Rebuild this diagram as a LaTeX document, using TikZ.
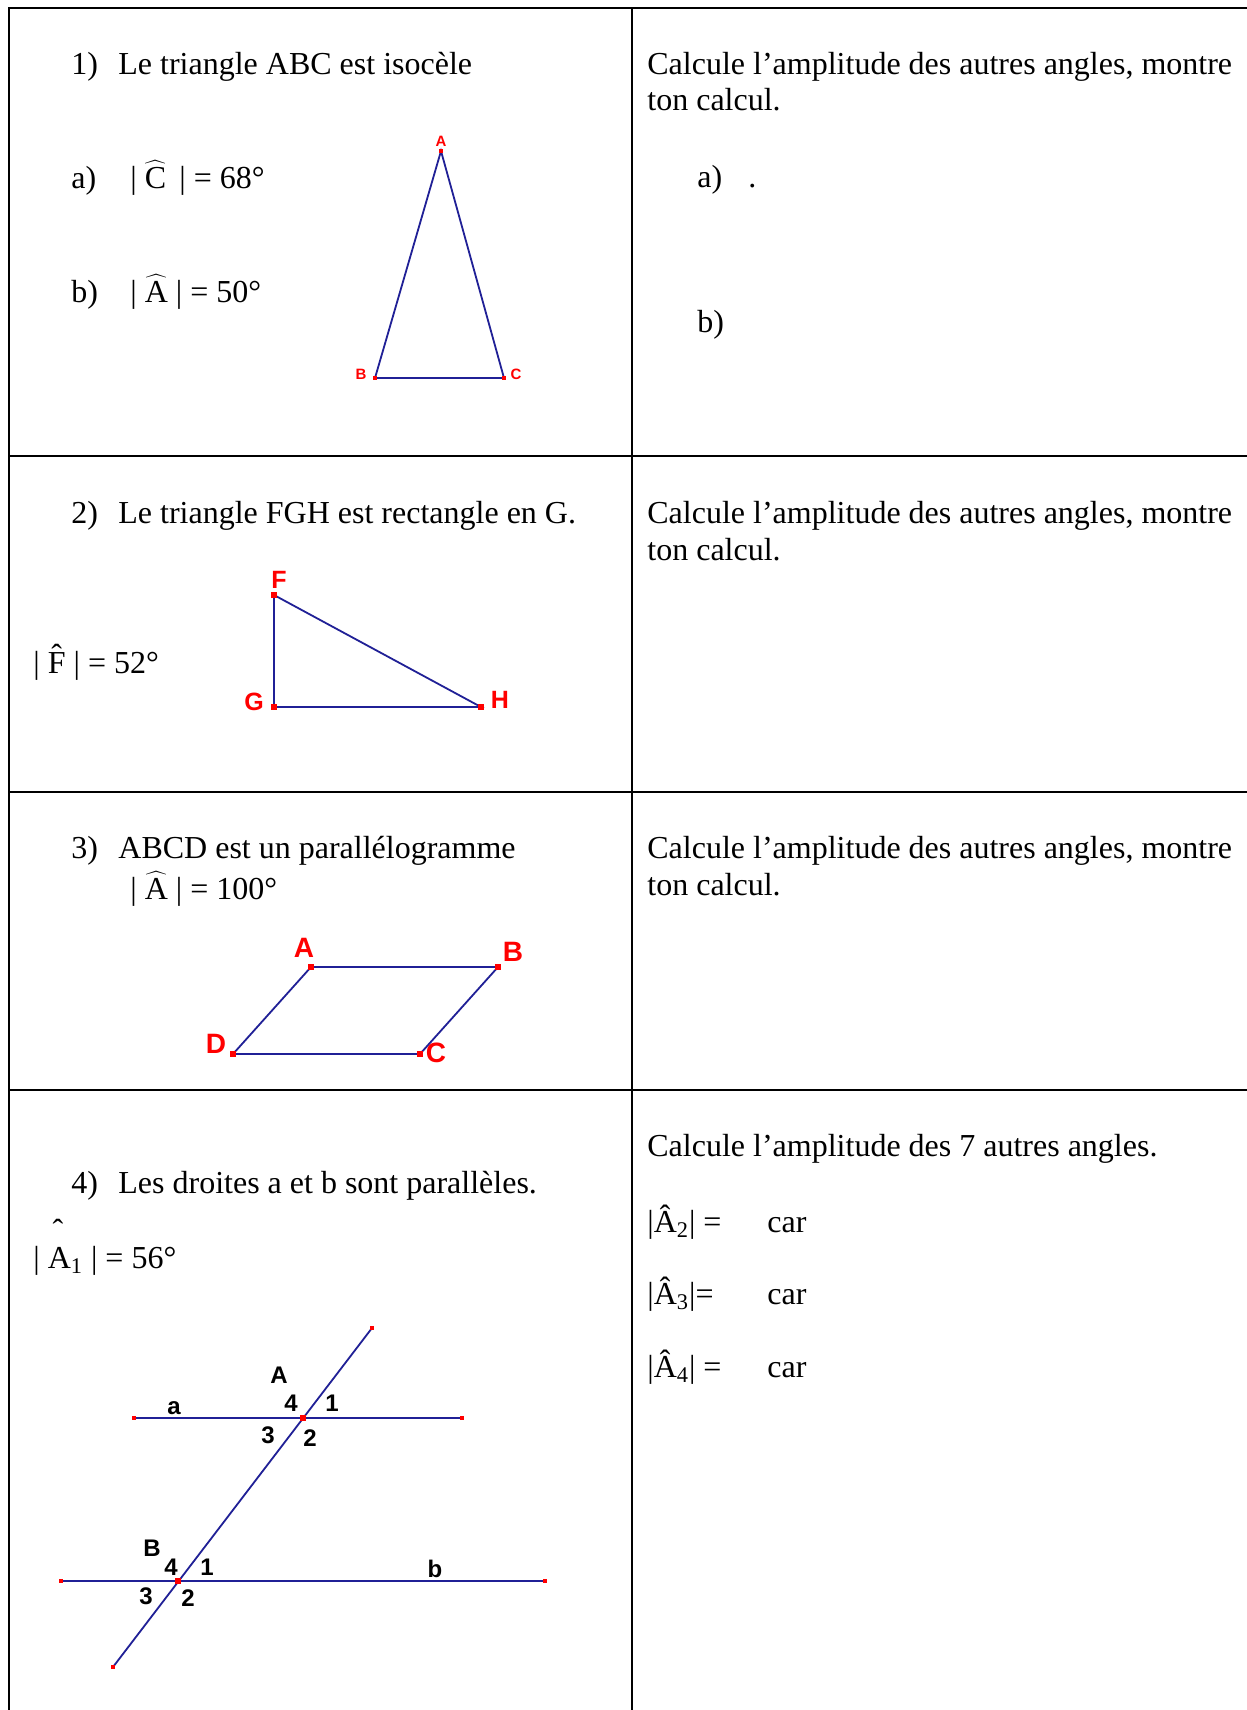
\documentclass[tikz,border=0pt]{standalone}
\usepackage{fontspec}
\setmainfont{Liberation Serif}
\newfontfamily\labfont{Liberation Sans}
\definecolor{geoblue}{RGB}{32,32,150}
\newcommand{\wh}[1]{$\widehat{\hbox{#1}}$}
\newcommand{\nhat}[1]{\ooalign{#1\cr\hidewidth\raisebox{0.2em}{\char"02C6}\hidewidth\cr}}
\begin{document}
\begin{tikzpicture}[x=0.5pt,y=-0.5pt,
  txt/.style={anchor=base west, inner sep=0pt, font=\fontsize{16}{18}\selectfont},
  gridline/.style={line width=1.3pt},
  geo/.style={draw=geoblue, line width=0.9pt},
  vtx/.style={rectangle, fill=red, inner sep=0pt, minimum size=2.6pt},
  vtxs/.style={rectangle, fill=red, inner sep=0pt, minimum size=1.8pt},
  rl/.style={text=red, inner sep=0pt, font=\labfont\bfseries\fontsize{#1}{#1}\selectfont},
  bl/.style={text=black, inner sep=0pt, font=\labfont\bfseries\fontsize{#1}{#1}\selectfont}]
\useasboundingbox[fill=white] (0,0) rectangle (1247,1710);
% table
\draw[gridline] (1247,8) -- (9,8) -- (9,1710);
\draw[gridline] (632,8) -- (632,1710);
\draw[gridline] (9,456) -- (1247,456);
\draw[gridline] (9,792) -- (1247,792);
\draw[gridline] (9,1090) -- (1247,1090);

% ---- cell 1
\node[txt] (n1) at (71,74) {1)};
\node[txt] (t1) at (118,74) {Le triangle ABC est isocèle};
\node[txt] (a1) at (71,188) {a)};
\node[txt] (f1) at (130,188) {| \wh{C}\ \,| = 68°};
\node[txt] (b1) at (71,302) {b)};
\node[txt] (f2) at (130,302) {| \wh{A} | = 50°};
\coordinate (TA) at (441,151);
\coordinate (TB) at (375,378);
\coordinate (TC) at (504,378);
\draw[geo] (TA) -- (TB) -- (TC) -- cycle;
\node[vtxs] (TAm) at (TA) {};
\node[vtxs] (TBm) at (TB) {};
\node[vtxs] (TCm) at (TC) {};
\node[rl=7.5, anchor=south] (TAl) at (441,147) {A};
\node[rl=7.5] (TBl) at (361,374) {B};
\node[rl=7.5] (TCl) at (516,374) {C};
% right cell 1
\node[txt] (r1a) at (647,74) {Calcule l’amplitude des autres angles, montre};
\node[txt] (r1b) at (647,110) {ton calcul.};
\node[txt] (r1c) at (697,187) {a)};
\node[txt] (r1d) at (748,187) {.};
\node[txt] (r1e) at (697,332) {b)};

% ---- cell 2
\node[txt] (n2) at (71,523) {2)};
\node[txt] (t2) at (118,523) {Le triangle FGH est rectangle en G.};
\node[txt] (f3) at (33,673) {| \nhat{F} | = 52°};
\coordinate (PF) at (274,595);
\coordinate (PG) at (274,707);
\coordinate (PH) at (481,707);
\draw[geo] (PF) -- (PG) -- (PH) -- cycle;
\node[vtx] (PFm) at (PF) {};
\node[vtx] (PGm) at (PG) {};
\node[vtx] (PHm) at (PH) {};
\node[rl=12.5] (PFl) at (279,580) {F};
\node[rl=12.5] (PGl) at (254,702) {G};
\node[rl=12.5] (PHl) at (500,700) {H};
% right cell 2
\node[txt] (r2a) at (647,523) {Calcule l’amplitude des autres angles, montre};
\node[txt] (r2b) at (647,560) {ton calcul.};

% ---- cell 3
\node[txt] (n3) at (71,858) {3)};
\node[txt] (t3) at (118,858) {ABCD est un parallélogramme};
\node[txt] (f4) at (130,899) {| \wh{A} | = 100°};
\coordinate (QA) at (311,967);
\coordinate (QB) at (498,967);
\coordinate (QC) at (420,1054);
\coordinate (QD) at (233,1054);
\draw[geo] (QA) -- (QB) -- (QC) -- (QD) -- cycle;
\node[vtx] (QAm) at (QA) {};
\node[vtx] (QBm) at (QB) {};
\node[vtx] (QCm) at (QC) {};
\node[vtx] (QDm) at (QD) {};
\node[rl=14] (QAl) at (304,948) {A};
\node[rl=14] (QBl) at (513,952) {B};
\node[rl=14] (QDl) at (216,1044) {D};
\node[rl=14] (QCl) at (436,1053) {C};
% right cell 3
\node[txt] (r3a) at (647,858) {Calcule l’amplitude des autres angles, montre};
\node[txt] (r3b) at (647,895) {ton calcul.};

% ---- cell 4
\node[txt] (n4) at (71,1193) {4)};
\node[txt] (t4) at (118,1193) {Les droites a et b sont parallèles.};
\node[inner sep=0pt, font=\fontsize{16}{18}\selectfont] (caret) at (58,1230) {\char"02C6};
\node[txt] (f5) at (33,1268) {| A\textsubscript{1} | = 56°};
\coordinate (L1) at (372,1328);
\coordinate (L2) at (113,1667);
\coordinate (La1) at (134,1418);
\coordinate (La2) at (462,1418);
\coordinate (XA) at (303,1418);
\coordinate (Lb1) at (61,1581);
\coordinate (Lb2) at (545,1581);
\coordinate (XB) at (178,1581);
\draw[geo] (L1) -- (L2);
\draw[geo] (La1) -- (La2);
\draw[geo] (Lb1) -- (Lb2);
\foreach \p in {L1,L2,La1,La2,Lb1,Lb2}{\node[vtxs] (\p m) at (\p) {};}
\node[vtx] (XAm) at (XA) {};
\node[vtx] (XBm) at (XB) {};
\node[bl=12] (lA) at (279,1375) {A};
\node[bl=12] (lA4) at (291,1403) {4};
\node[bl=12] (lA1) at (332,1403) {1};
\node[bl=12] (lA3) at (268,1435) {3};
\node[bl=12] (lA2) at (310,1438) {2};
\node[bl=12] (la) at (174,1408) {a};
\node[bl=12] (lB) at (152,1548) {B};
\node[bl=12] (lB4) at (171,1567) {4};
\node[bl=12] (lB1) at (207,1567) {1};
\node[bl=12] (lB3) at (146,1596) {3};
\node[bl=12] (lB2) at (188,1598) {2};
\node[bl=12] (lb) at (435,1569) {b};
% right cell 4
\node[txt] (r4a) at (647,1156) {Calcule l’amplitude des 7 autres angles.};
\node[txt] (r4b) at (647,1232) {|Â\textsubscript{2}| =};
\node[txt] (r4bc) at (767,1232) {car};
\node[txt] (r4c) at (647,1304) {|Â\textsubscript{3}|=};
\node[txt] (r4cc) at (767,1304) {car};
\node[txt] (r4d) at (647,1377) {|Â\textsubscript{4}| =};
\node[txt] (r4dc) at (767,1377) {car};
\end{tikzpicture}
\end{document}
